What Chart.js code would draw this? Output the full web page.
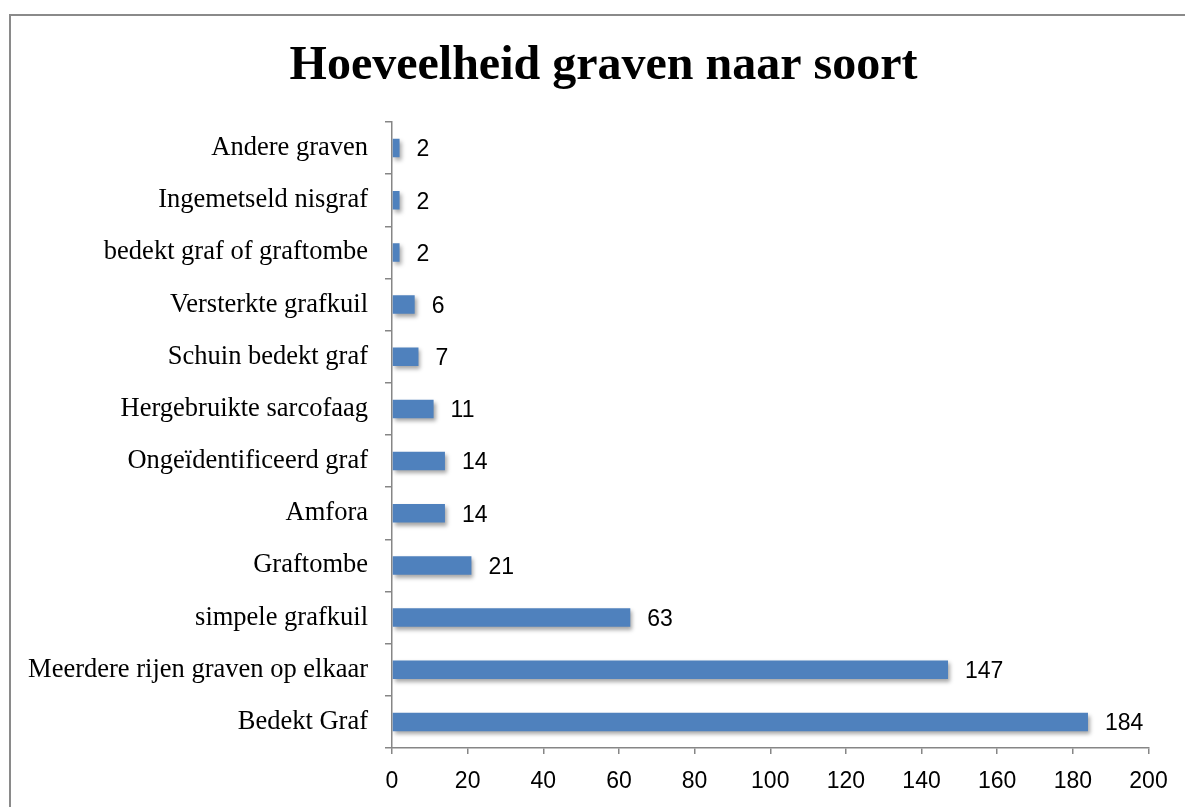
<!DOCTYPE html>
<html>
<head>
<meta charset="utf-8">
<script src="https://cdn.jsdelivr.net/npm/chart.js@4"></script>
<style>
  html, body { margin: 0; padding: 0; background: #fff; overflow: hidden; }
  #wrap { position: relative; width: 1185px; height: 807px; }
  #frame { position: absolute; left: 9px; top: 14px; right: -10px; bottom: -10px;
           border-left: 2px solid #8a8a8a; border-top: 2px solid #8a8a8a; pointer-events: none; }
</style>
</head>
<body>
<div id="wrap">
  <canvas id="myChart" width="1185" height="807"></canvas>
  <div id="frame"></div>
</div>
<script>
// grave types, top to bottom as in the picture
const soorten = [
    'Andere graven',
    'Ingemetseld nisgraf',
    'bedekt graf of graftombe',
    'Versterkte grafkuil',
    'Schuin bedekt graf',
    'Hergebruikte sarcofaag',
    'Ongeïdentificeerd graf',
    'Amfora',
    'Graftombe',
    'simpele grafkuil',
    'Meerdere rijen graven op elkaar',
    'Bedekt Graf'
];
const aantallen = [2, 2, 2, 6, 7, 11, 14, 14, 21, 63, 147, 184];
const xMin = 0;
const xMax = 200;
const xStep = 20;
const titel = 'Hoeveelheid graven naar soort';

const barColor = '#4F81BD';
const labelFont = '23px "Liberation Sans", Arial, sans-serif';
const titleFont = 'bold 48px "Liberation Serif", "Times New Roman", serif';

// shadow under the bars, value labels next to them, and the title
// (title drawn here because the original is centred on the whole frame, not the chart box)
const barExtras = {
    id: 'barExtras',
    beforeDatasetsDraw(chart) {
        const ctx = chart.ctx;
        ctx.save();
        ctx.shadowColor = 'rgba(0,0,0,0.35)';
        ctx.shadowOffsetX = 2;
        ctx.shadowOffsetY = 3;
        ctx.shadowBlur = 4;
    },
    afterDatasetsDraw(chart) {
        const ctx = chart.ctx;
        ctx.restore();
        ctx.save();
        ctx.font = labelFont;
        ctx.fillStyle = '#000';
        ctx.textAlign = 'left';
        ctx.textBaseline = 'middle';
        const meta = chart.getDatasetMeta(0);
        meta.data.forEach((bar, i) => {
            ctx.fillText(String(aantallen[i]), bar.x + 17, bar.y + 2);
        });
        ctx.restore();
    },
    afterDraw(chart) {
        const ctx = chart.ctx;
        ctx.save();
        ctx.font = titleFont;
        ctx.fillStyle = '#000';
        ctx.textAlign = 'center';
        ctx.textBaseline = 'alphabetic';
        ctx.fillText(titel, 603.5, 78.5);
        ctx.restore();
    }
};

const ctx = document.getElementById('myChart');
const myChart = new Chart(ctx, {
    type: 'bar',
    data: {
        labels: soorten,
        datasets: [{
            data: aantallen,
            backgroundColor: barColor,
            borderWidth: 0,
            barPercentage: 0.355,
            categoryPercentage: 1
        }]
    },
    plugins: [barExtras],
    options: {
        indexAxis: 'y',
        responsive: false,
        animation: false,
        layout: {
            padding: { left: 22, right: 36.5, top: 122, bottom: 11 }
        },
        scales: {
            x: {
                min: xMin,
                max: xMax,
                afterFit(scale) { scale.height = 48; },
                ticks: {
                    stepSize: xStep,
                    padding: 14,
                    color: '#000',
                    font: { family: '"Liberation Sans", Arial, sans-serif', size: 23 }
                },
                grid: {
                    drawOnChartArea: false,
                    tickLength: 6,
                    color: '#868686',
                    lineWidth: 1.5
                },
                border: { color: '#868686', width: 1.5 }
            },
            y: {
                afterFit(scale) { scale.width = 370; },
                ticks: {
                    padding: 17,
                    color: '#000',
                    font: { family: '"Liberation Serif", "Times New Roman", serif', size: 26.5 }
                },
                grid: {
                    drawOnChartArea: false,
                    tickLength: 7,
                    color: '#868686',
                    lineWidth: 1.5
                },
                border: { color: '#868686', width: 1.5 }
            }
        },
        plugins: {
            legend: { display: false },
            tooltip: { enabled: false },
            title: { display: false }
        }
    }
});
</script>
</body>
</html>
